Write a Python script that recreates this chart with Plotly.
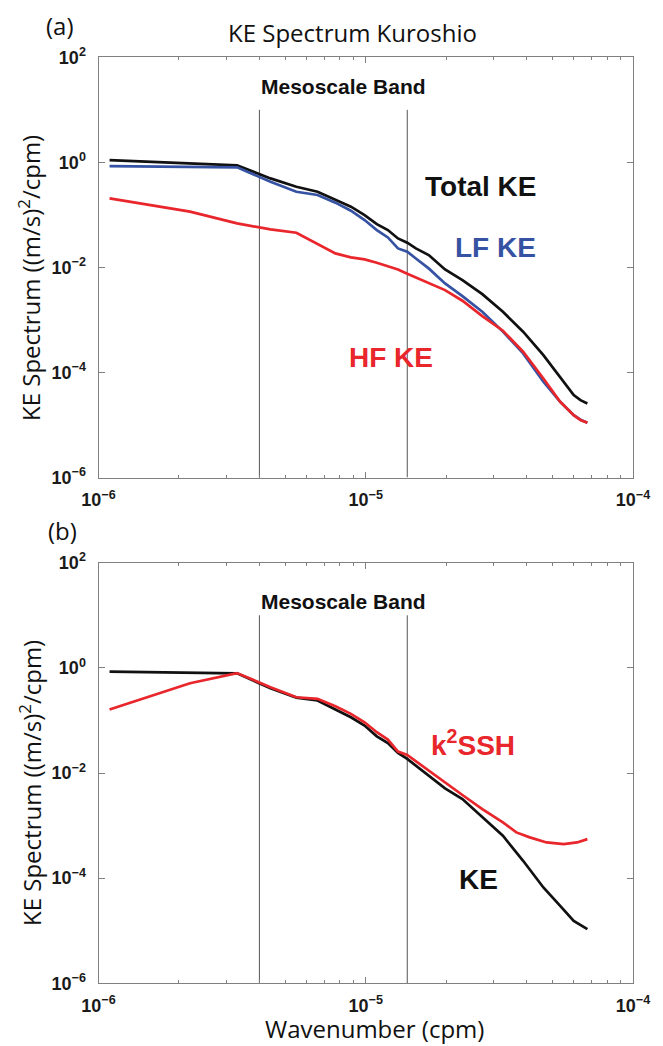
import numpy as np
import plotly.graph_objects as go

# ---------------- data ----------------
# Panel (a): wavenumber (cpm) and spectra ((m/s)^2/cpm)
k_a = [1.1e-6, 2.2e-6, 3.3e-6, 4.4e-6, 5.5e-6, 6.6e-6, 7.7e-6, 8.8e-6, 9.9e-6,
       1.1e-5, 1.21e-5, 1.32e-5, 1.43e-5, 1.54e-5, 1.72e-5, 1.98e-5, 2.3e-5,
       2.73e-5, 3.26e-5, 3.88e-5, 4.62e-5, 5.34e-5, 6.0e-5, 6.36e-5, 6.75e-5]
total_ke = [1.107, 0.957, 0.877, 0.495, 0.344, 0.276, 0.197, 0.143, 0.0993,
            0.0668, 0.0514, 0.0356, 0.0295, 0.0230, 0.0172, 0.00916, 0.00574,
            0.0031, 0.00143, 5.96e-4, 2.14e-4, 8.26e-5, 3.70e-5, 2.97e-5, 2.57e-5]
lf_ke = [0.851, 0.828, 0.804, 0.429, 0.276, 0.239, 0.171, 0.120, 0.0798,
         0.0514, 0.0372, 0.0230, 0.0199, 0.0148, 0.00957, 0.00495, 0.00284,
         0.00143, 6.0e-4, 2.3e-4, 6.64e-5, 2.76e-5, 1.54e-5, 1.26e-5, 1.10e-5]
hf_ke = [0.206, 0.115, 0.0689, 0.053, 0.0457, 0.0278, 0.0185, 0.0155, 0.0142,
         0.0123, 0.0107, 0.00916, 0.0076, 0.00646, 0.0051, 0.0037, 0.00232,
         0.00118, 6.22e-4, 2.48e-4, 7.69e-5, 2.76e-5, 1.54e-5, 1.24e-5, 1.10e-5]

# Panel (b)
k_b_ke = [1.1e-6, 2.2e-6, 3.3e-6, 4.4e-6, 5.5e-6, 6.6e-6, 7.7e-6, 8.8e-6, 9.9e-6,
          1.1e-5, 1.21e-5, 1.32e-5, 1.43e-5, 1.72e-5, 1.98e-5, 2.3e-5, 2.73e-5,
          3.26e-5, 3.88e-5, 4.62e-5, 5.34e-5, 6.0e-5, 6.75e-5]
ke_b = [0.851, 0.794, 0.785, 0.41, 0.272, 0.239, 0.161, 0.115, 0.0798,
        0.0499, 0.0372, 0.024, 0.0185, 0.00889, 0.0051, 0.0032, 0.00143,
        6.4e-4, 2.14e-4, 6.64e-5, 2.97e-5, 1.54e-5, 1.07e-5]
k_b_ssh = [1.1e-6, 2.2e-6, 3.3e-6, 4.4e-6, 5.5e-6, 6.6e-6, 7.7e-6, 8.8e-6, 9.9e-6,
           1.1e-5, 1.21e-5, 1.32e-5, 1.43e-5, 1.72e-5, 1.98e-5, 2.3e-5, 2.73e-5,
           3.26e-5, 3.66e-5, 4.11e-5, 4.75e-5, 5.5e-5, 6.18e-5, 6.75e-5]
k2ssh_b = [0.161, 0.51, 0.794, 0.429, 0.276, 0.257, 0.186, 0.133, 0.0923,
           0.0596, 0.0432, 0.0255, 0.022, 0.0111, 0.00646, 0.00381, 0.00206,
           0.00115, 7.41e-4, 5.96e-4, 4.78e-4, 4.45e-4, 4.78e-4, 5.53e-4]

meso_band = [4.0e-6, 1.43e-5]     # band edges (cpm)
meso_top = 10.0                   # top of band marker lines
x_range_exp = [-6, -4]
y_range_exp = [-6, 2]
x_tick_vals = [1e-6, 1e-5, 1e-4]
x_tick_text = ["10<sup>\u22126</sup>", "10<sup>\u22125</sup>", "10<sup>\u22124</sup>"]
y_tick_vals = [1e-6, 1e-4, 1e-2, 1e0, 1e2]
y_tick_text = ["10<sup>\u22126</sup>", "10<sup>\u22124</sup>", "10<sup>\u22122</sup>",
               "10<sup>0</sup>", "10<sup>2</sup>"]

# ---------------- styling ----------------
WIN_W, WIN_H = 663, 1046
OFF = 8                     # default page (body) margin of the html page
W, H = WIN_W - OFF, WIN_H - OFF
BLACK = "#111111"
BLUE = "#3653a3"
RED = "#e8262b"
AXC = "#808080"
BOLD = "Liberation Sans, Arial, sans-serif"
REG = "Open Sans, Noto Sans, sans-serif"

def px_x(p):
    return (p - OFF) / W

def px_y(p):
    return 1 - (p - OFF) / H

fig = go.Figure()

def line(x, y, color, xa, ya, width=2.7):
    fig.add_trace(go.Scatter(x=x, y=y, mode="lines", xaxis=xa, yaxis=ya,
                             line=dict(color=color, width=width),
                             showlegend=False, hoverinfo="skip"))

for xa, ya in (("x", "y"), ("x2", "y2")):
    for kx in meso_band:
        line([kx, kx], [10 ** y_range_exp[0], meso_top], "#555555", xa, ya, width=1)

line(k_a, total_ke, BLACK, "x", "y")
line(k_a, lf_ke, BLUE, "x", "y")
line(k_a, hf_ke, RED, "x", "y")

line(k_b_ke, ke_b, BLACK, "x2", "y2")
line(k_b_ssh, k2ssh_b, RED, "x2", "y2")

xdom = [px_x(98.5), px_x(633)]
ydom_a = [px_y(477.5), px_y(57.3)]
ydom_b = [px_y(983.3), px_y(562.7)]

common_axis = dict(type="log", showline=True, linecolor=AXC, linewidth=1,
                   mirror="ticks", ticks="inside", tickcolor=AXC, ticklen=6,
                   showgrid=False, zeroline=False, tickmode="array",
                   automargin=False,
                   tickfont=dict(family=BOLD, size=18, color="#1a1a1a", weight="bold"))

xaxis_cfg = dict(common_axis, range=x_range_exp, domain=xdom,
                 tickvals=x_tick_vals, ticktext=x_tick_text,
                 ticklabelstandoff=6,
                 minor=dict(ticks="inside", ticklen=3, tickcolor=AXC, dtick="D1",
                            showgrid=False))
yaxis_cfg = dict(common_axis, range=y_range_exp, tickvals=y_tick_vals,
                 ticktext=y_tick_text, ticklabelstandoff=8)

fig.update_layout(
    width=W, height=H,
    margin=dict(l=0, r=0, t=0, b=0, pad=0, autoexpand=False),
    paper_bgcolor="white", plot_bgcolor="white",
    xaxis=dict(xaxis_cfg, anchor="y"),
    yaxis=dict(yaxis_cfg, domain=ydom_a, anchor="x"),
    xaxis2=dict(xaxis_cfg, anchor="y2"),
    yaxis2=dict(yaxis_cfg, domain=ydom_b, anchor="x2"),
)

ann = []
def paper_text(text, x, y, size, family=REG, angle=0, color="#111111"):
    ann.append(dict(text=text, x=px_x(x), y=px_y(y), xref="paper", yref="paper",
                    showarrow=False, xanchor="center", yanchor="middle",
                    textangle=angle, font=dict(family=family, size=size, color=color)))

def data_text(text, x, y, size, color, xr="x", yr="y"):
    ann.append(dict(text="<b>" + text + "</b>", x=np.log10(x), y=np.log10(y),
                    xref=xr, yref=yr, showarrow=False, xanchor="center",
                    yanchor="middle", font=dict(family=BOLD, size=size, color=color)))

paper_text("(a)", 60, 25, 24)
paper_text("(b)", 62, 530, 24)
paper_text("KE Spectrum Kuroshio", 352, 33, 24)
paper_text("Wavenumber (cpm)", 374, 1028, 24)
paper_text("KE Spectrum ((m/s)<sup>2</sup>/cpm)", 30, 278, 24, angle=-90)
paper_text("KE Spectrum ((m/s)<sup>2</sup>/cpm)", 30, 783, 24, angle=-90)

data_text("Mesoscale Band", 8.28e-6, 10 ** 1.443, 21, BLACK, "x", "y")
data_text("Mesoscale Band", 8.28e-6, 10 ** 1.253, 21, BLACK, "x2", "y2")
data_text("Total KE", 2.69e-5, 0.349, 28, BLACK, "x", "y")
data_text("LF KE", 3.07e-5, 0.0235, 28, BLUE, "x", "y")
data_text("HF KE", 1.245e-5, 1.91e-4, 28, RED, "x", "y")
data_text("k<sup>2</sup>SSH", 2.51e-5, 0.038, 28, RED, "x2", "y2")
data_text("KE", 2.64e-5, 9.6e-5, 28, BLACK, "x2", "y2")

fig.update_layout(annotations=ann)

fig.write_html("out.html")
